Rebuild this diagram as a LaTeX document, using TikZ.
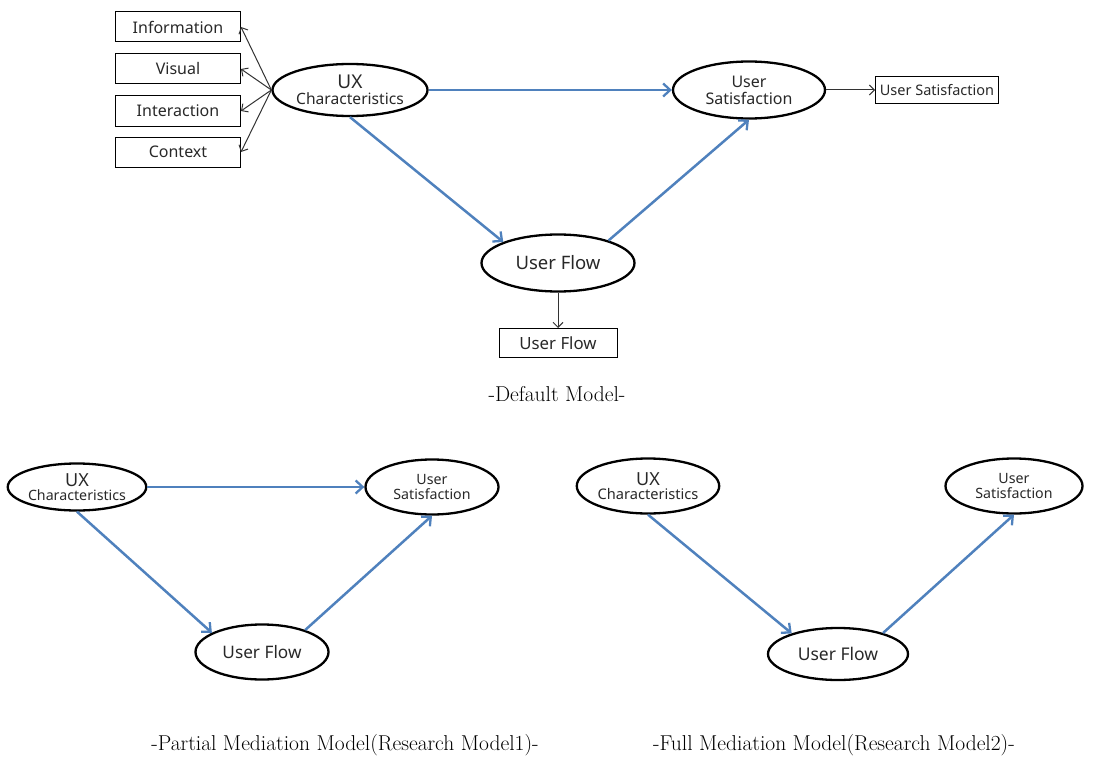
\documentclass[tikz,border=0pt]{standalone}
\usepackage{fontspec}
\setsansfont{Noto Sans}
\usetikzlibrary{shapes.geometric,arrows.meta}
\definecolor{pathblue}{RGB}{79,129,189}
\definecolor{txtgray}{RGB}{40,40,40}
\tikzset{
  latent/.style={ellipse,draw=black,line width=2.3pt,inner sep=0pt,align=center,text=txtgray},
  indic/.style={rectangle,draw=black,line width=1pt,inner sep=0pt,font=\sffamily\fontsize{16}{18}\selectfont,text=txtgray},
  bluearrow/.style={draw=pathblue,line width=2.5pt,-{Straight Barb[length=7pt,width=13pt,line width=2.3pt]}},
  thinarrow/.style={draw=black!80,line width=1pt,-{Straight Barb[length=5pt,width=10pt,line width=1pt]}},
  caption/.style={font=\rmfamily\fontsize{21.5}{24}\selectfont}
}
\begin{document}
\begin{tikzpicture}[x=1pt,y=-1pt]
\useasboundingbox (0,0) rectangle (1101,760);
% ---------- Default model ----------
\node[latent,minimum width=155pt,minimum height=52pt,font=\sffamily\fontsize{15.6}{17}\selectfont] (ux) at (350,90)
  {{\fontsize{19}{19}\selectfont UX}\\[-1pt]Characteristics};
\node[latent,minimum width=152pt,minimum height=57pt,font=\sffamily\fontsize{16}{18}\selectfont] (us) at (749,90)
  {User\\[-1pt]Satisfaction};
\node[latent,minimum width=153pt,minimum height=57pt,font=\sffamily\fontsize{18.5}{20}\selectfont] (uf) at (558,263) {User Flow};
\node[indic,minimum width=125pt,minimum height=30pt] (info) at (178,27) {Information};
\node[indic,minimum width=125pt,minimum height=30pt] (vis) at (178,69) {Visual};
\node[indic,minimum width=125pt,minimum height=30pt] (inter) at (178,111) {Interaction};
\node[indic,minimum width=125pt,minimum height=30pt] (ctx) at (178,152) {Context};
\node[indic,minimum width=123pt,minimum height=27pt,font=\sffamily\fontsize{14.5}{16}\selectfont] (usbox) at (937,90) {User Satisfaction};
\node[indic,minimum width=118pt,minimum height=29pt,font=\sffamily\fontsize{16.8}{18}\selectfont] (ufbox) at (558,343) {User Flow};
\draw[thinarrow] (ux.west) -- (info.east);
\draw[thinarrow] (ux.west) -- (vis.east);
\draw[thinarrow] (ux.west) -- (inter.east);
\draw[thinarrow] (ux.west) -- (ctx.east);
\draw[thinarrow] (us.east) -- (usbox.west);
\draw[thinarrow] (uf.south) -- (ufbox.north);
\draw[bluearrow] (ux.east) -- (us.west);
\draw[bluearrow] (ux.south) -- (uf.159);
\draw[bluearrow] (uf.24) -- (us.south);
\node[caption] (cap0) at (557,394) {-Default Model-};
% ---------- Partial mediation ----------
\node[latent,minimum width=135pt,minimum height=47pt,font=\sffamily\fontsize{14.2}{16}\selectfont] (ux1) at (77,487)
  {{\fontsize{18}{18}\selectfont UX}\\[-2pt]Characteristics};
\node[latent,minimum width=133pt,minimum height=55pt,font=\sffamily\fontsize{14.2}{16}\selectfont] (us1) at (432,487)
  {User\\[-1pt]Satisfaction};
\node[latent,minimum width=133pt,minimum height=55pt,font=\sffamily\fontsize{17.2}{19}\selectfont] (uf1) at (262,652) {User Flow};
\draw[bluearrow] (ux1.east) -- (us1.west);
\draw[bluearrow] (ux1.south) -- (uf1.159);
\draw[bluearrow] (uf1.27) -- (us1.south);
\node[caption] (cap1) at (345,745) {-Partial Mediation Model(Research Model1)-};
% ---------- Full mediation ----------
\node[latent,minimum width=139pt,minimum height=55pt,font=\sffamily\fontsize{14.6}{16}\selectfont] (ux2) at (648,486)
  {{\fontsize{18}{18}\selectfont UX}\\[-2pt]Characteristics};
\node[latent,minimum width=137pt,minimum height=55pt,font=\sffamily\fontsize{14.2}{16}\selectfont] (us2) at (1014,486)
  {User\\[-1pt]Satisfaction};
\node[latent,minimum width=140pt,minimum height=52pt,font=\sffamily\fontsize{17.5}{19}\selectfont] (uf2) at (838,654) {User Flow};
\draw[bluearrow] (ux2.south) -- (uf2.156);
\draw[bluearrow] (uf2.25) -- (us2.south);
\node[caption] (cap2) at (834,745) {-Full Mediation Model(Research Model2)-};
\end{tikzpicture}
\end{document}
